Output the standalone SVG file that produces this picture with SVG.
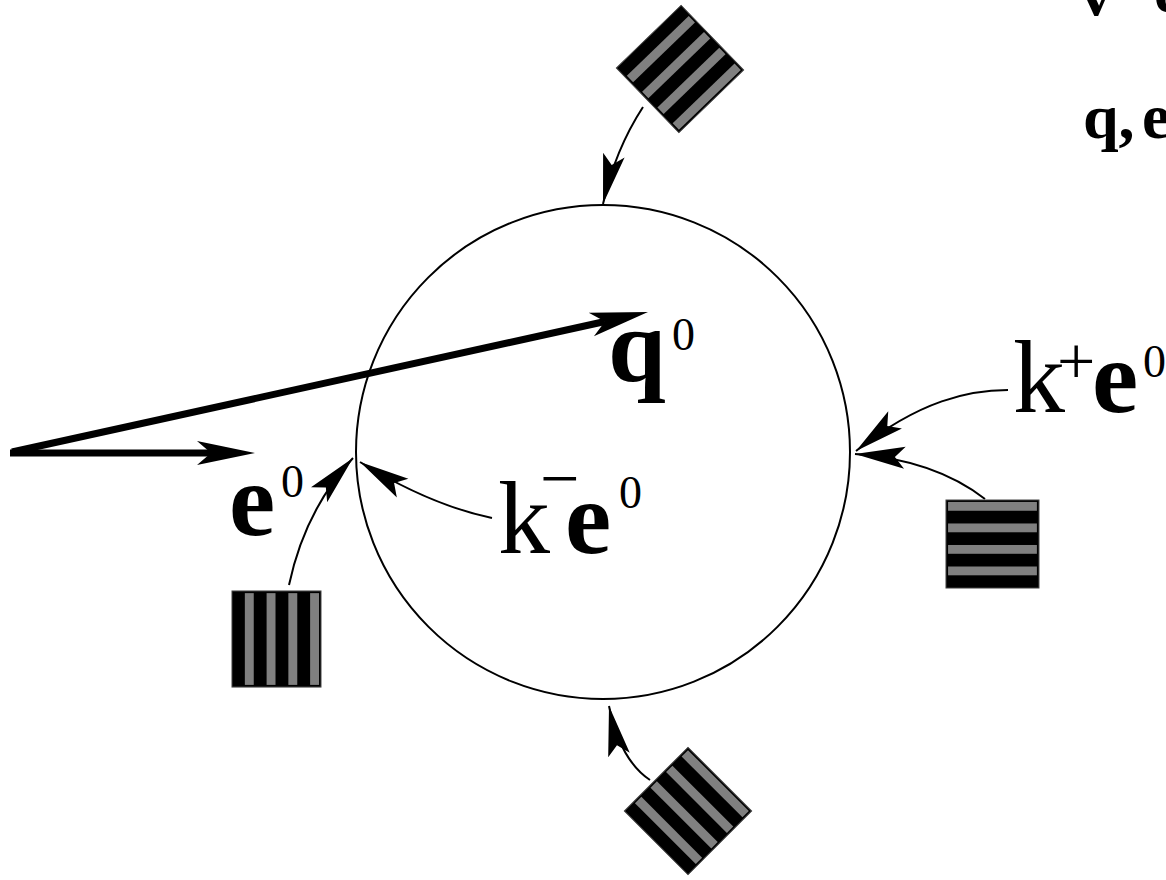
<svg xmlns="http://www.w3.org/2000/svg" width="1166" height="880" viewBox="0 0 1166 880">
<style>
.t{font-family:"Liberation Serif","Times New Roman",serif;fill:#000}
.b{font-weight:bold}
.big{font-size:104px}
.sup{font-size:46px}
.leg{font-size:64px}
.thin{fill:none;stroke:#000;stroke-width:2}
.thick{fill:none;stroke:#000;stroke-width:7}
.circ{fill:none;stroke:#000;stroke-width:2}
</style>
<defs>
<marker id="ah" markerUnits="userSpaceOnUse" orient="auto" refX="0" refY="0" markerWidth="10" markerHeight="10" overflow="visible">
<path d="M0,0 L-50,-11 L-40,0 L-50,11 Z" fill="#000"/>
</marker>
<marker id="AH" markerUnits="userSpaceOnUse" orient="auto" refX="0" refY="0" markerWidth="10" markerHeight="10" overflow="visible">
<path d="M44,0 L-14,-12 L0,0 L-14,12 Z" fill="#000"/>
</marker>
<g id="sq">
<rect x="0" y="0" width="90" height="90" fill="#000" stroke="#444" stroke-width="1"/>
<rect x="2" y="2" width="86" height="9" fill="#808080"/>
<rect x="2" y="24" width="86" height="9" fill="#808080"/>
<rect x="2" y="46" width="86" height="9" fill="#808080"/>
<rect x="2" y="68" width="86" height="9" fill="#808080"/>
</g>
</defs>
<rect width="1166" height="880" fill="#fff"/>

<g id="sphere">
<circle class="circ" cx="603" cy="452" r="247"/>
</g>

<g id="connectors">
<path class="thick" d="M10,453 L211,453" marker-end="url(#AH)"/>
<path class="thick" d="M12,452 L605,321.5" marker-end="url(#AH)"/>
<path class="thin" d="M643,107 Q615,150 603,204" marker-end="url(#ah)"/>
<path class="thin" d="M650,780 Q620,760 609,706" marker-end="url(#ah)"/>
<path class="thin" d="M985,499 Q935,460 855,454" marker-end="url(#ah)"/>
<path class="thin" d="M1008,390 C970,390 920,400 856,451" marker-end="url(#ah)"/>
<path class="thin" d="M492,518 Q430,505 360,462" marker-end="url(#ah)"/>
<path class="thin" d="M289,585 Q305,510 353,458" marker-end="url(#ah)"/>
</g>

<g id="square-top"><use href="#sq" transform="translate(680,69) rotate(136) translate(-45,-45)"/></g>
<g id="square-right"><use href="#sq" transform="translate(946,500) scale(1.033,0.978)"/></g>
<g id="square-left"><use href="#sq" transform="translate(321,591) rotate(90) scale(1.067,0.989)"/></g>
<g id="square-bottom"><use href="#sq" transform="translate(688,811) rotate(45) translate(-45,-45)"/></g>

<g id="label-q0">
<text class="t b big" x="608" y="381">q</text>
<text class="t sup" x="672" y="350">0</text>
</g>
<g id="label-kplus">
<text class="t big" x="1013" y="412">k</text>
<text class="t" font-size="68" x="1057" y="384">+</text>
<text class="t b big" x="1092" y="412">e</text>
<text class="t sup" x="1143" y="377">0</text>
</g>
<g id="label-kminus">
<text class="t big" x="498" y="553">k</text>
<text class="t" font-size="70" x="540" y="502">−</text>
<text class="t b big" x="565" y="553">e</text>
<text class="t sup" x="619" y="508">0</text>
</g>
<g id="label-e0">
<text class="t b big" x="229" y="535">e</text>
<text class="t sup" x="281" y="497">0</text>
</g>
<g id="legend">
<text class="t b leg" x="1080" y="15">v</text>
<text class="t b leg" x="1154" y="12">e</text>
<text class="t b leg" x="1083" y="138">q,</text>
<text class="t b leg" x="1142" y="138">e</text>
</g>
</svg>
